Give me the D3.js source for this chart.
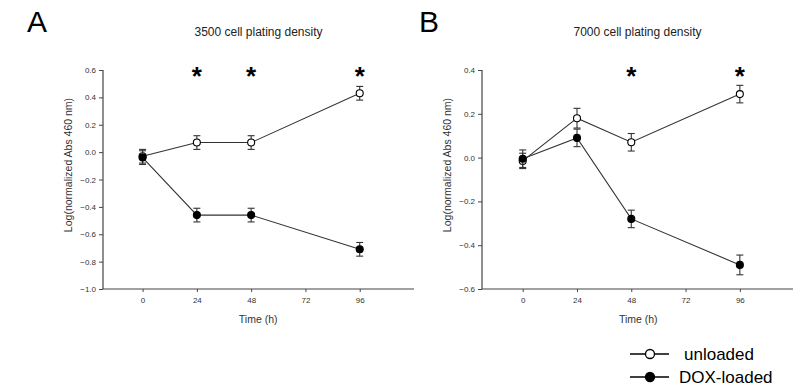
<!DOCTYPE html>
<html>
<head>
<meta charset="utf-8">
<script src="https://cdn.jsdelivr.net/npm/d3@7"></script>
<style>
  body { margin: 0; background: #fff; }
  svg { display: block; font-family: "Liberation Sans", Arial, sans-serif; }
</style>
</head>
<body>
<div class="chart"></div>
<script>
// data
const timePoints = [0, 24, 48, 96];
const xTicks = [0, 24, 48, 72, 96];

const aUnloaded = [-0.03, 0.07, 0.07, 0.43];
const aUnloadedErr = [0.05, 0.05, 0.05, 0.05];
const aDox = [-0.04, -0.46, -0.46, -0.71];
const aDoxErr = [0.05, 0.05, 0.05, 0.05];
const aStars = [24, 48, 96];
const aYTicks = [0.6, 0.4, 0.2, 0.0, -0.2, -0.4, -0.6, -0.8, -1.0];

const bUnloaded = [-0.015, 0.18, 0.07, 0.29];
const bUnloadedErr = [0.035, 0.045, 0.04, 0.04];
const bDox = [-0.005, 0.09, -0.28, -0.49];
const bDoxErr = [0.04, 0.04, 0.04, 0.045];
const bStars = [48, 96];
const bYTicks = [0.4, 0.2, 0.0, -0.2, -0.4, -0.6];

const legendLabels = ['unloaded', 'DOX-loaded'];

const lineColor = '#333';
const W = 801, H = 388;

const svg = d3.select('.chart').append('svg')
    .attr('width', W)
    .attr('height', H);

const panels = [
    {
        letter: 'A', title: '3500 cell plating density',
        left: 103, right: 414, xDomain: [-17.5, 120],
        yDomain: [-1.0, 0.6], yTicks: aYTicks,
        series: [
            { values: aUnloaded, err: aUnloadedErr, fill: '#fff' },
            { values: aDox, err: aDoxErr, fill: '#000' }
        ],
        stars: aStars, letterX: 27
    },
    {
        letter: 'B', title: '7000 cell plating density',
        left: 482, right: 793, xDomain: [-18, 119.5],
        yDomain: [-0.6, 0.4], yTicks: bYTicks,
        series: [
            { values: bUnloaded, err: bUnloadedErr, fill: '#fff' },
            { values: bDox, err: bDoxErr, fill: '#000' }
        ],
        stars: bStars, letterX: 419
    }
];

const plotTop = 70, plotBottom = 289;

panels.forEach(p => {
    const x = d3.scaleLinear().domain(p.xDomain).range([p.left, p.right]);
    const y = d3.scaleLinear().domain(p.yDomain).range([plotBottom, plotTop]);
    const g = svg.append('g');

    // panel letter + title
    g.append('text')
        .attr('x', p.letterX).attr('y', 32)
        .attr('font-size', 30).attr('fill', '#000')
        .text(p.letter);
    g.append('text')
        .attr('x', (p.left + p.right) / 2).attr('y', 36)
        .attr('text-anchor', 'middle')
        .attr('font-size', 12).attr('fill', '#222')
        .text(p.title);

    // axes
    const yAxis = d3.axisLeft(y).tickValues(p.yTicks)
        .tickFormat(d3.format('.1f')).tickSize(4).tickPadding(3);
    const xAxis = d3.axisBottom(x).tickValues(xTicks)
        .tickSize(3).tickPadding(5);

    const gy = g.append('g')
        .attr('transform', `translate(${p.left},0)`)
        .call(yAxis);
    const gx = g.append('g')
        .attr('transform', `translate(0,${plotBottom})`)
        .call(xAxis);

    [gx, gy].forEach(a => {
        a.select('.domain').attr('stroke', '#444').attr('stroke-width', 1.2);
        a.selectAll('.tick line').attr('stroke', '#444');
        a.selectAll('.tick text')
            .attr('fill', '#333')
            .attr('font-size', 8)
            .attr('font-family', '"Liberation Sans", Arial, sans-serif');
    });
    gy.select('.domain').attr('d', `M0,${plotBottom}V${plotTop}`);
    gx.select('.domain').attr('d', `M${p.left},0H${p.right}`);

    // axis labels
    g.append('text')
        .attr('transform', `translate(${p.left - 35},165) rotate(-90)`)
        .attr('text-anchor', 'middle')
        .attr('dy', '0.35em')
        .attr('font-size', 10.5).attr('fill', '#333')
        .text('Log(normalized Abs 460 nm)');
    g.append('text')
        .attr('x', x(48) + 7).attr('y', 323)
        .attr('text-anchor', 'middle')
        .attr('font-size', 10.5).attr('fill', '#333')
        .text('Time (h)');

    // significance stars
    g.selectAll('.star').data(p.stars).enter().append('text')
        .attr('class', 'star')
        .attr('x', d => x(d)).attr('y', 85)
        .attr('text-anchor', 'middle')
        .attr('font-size', 26).attr('font-weight', 'bold')
        .attr('fill', '#000')
        .text('*');

    // series: lines, error bars, markers
    const line = d3.line().x((d, i) => x(timePoints[i])).y(d => y(d));
    p.series.forEach(s => {
        g.append('path')
            .datum(s.values)
            .attr('d', line)
            .attr('fill', 'none')
            .attr('stroke', lineColor)
            .attr('stroke-width', 1.1);
    });
    p.series.forEach(s => {
        const pts = s.values.map((v, i) => ({ t: timePoints[i], v: v, e: s.err[i] }));
        const eb = g.append('g').attr('stroke', lineColor).attr('stroke-width', 1.1);
        pts.forEach(d => {
            eb.append('line')
                .attr('x1', x(d.t)).attr('x2', x(d.t))
                .attr('y1', y(d.v + d.e)).attr('y2', y(d.v - d.e));
            [d.v + d.e, d.v - d.e].forEach(c => {
                eb.append('line')
                    .attr('x1', x(d.t) - 3.5).attr('x2', x(d.t) + 3.5)
                    .attr('y1', y(c)).attr('y2', y(c));
            });
        });
        g.selectAll(null).data(pts).enter().append('circle')
            .attr('cx', d => x(d.t)).attr('cy', d => y(d.v))
            .attr('r', 3.5)
            .attr('fill', s.fill)
            .attr('stroke', '#000')
            .attr('stroke-width', 1.1);
    });
});

// legend
const legend = svg.append('g');
const legendFills = ['#fff', '#000'];
legendLabels.forEach((lab, i) => {
    const cy = 354 + i * 23;
    legend.append('line')
        .attr('x1', 630).attr('x2', 669)
        .attr('y1', cy).attr('y2', cy)
        .attr('stroke', '#000').attr('stroke-width', 1.3);
    legend.append('circle')
        .attr('cx', 650).attr('cy', cy).attr('r', 4.5)
        .attr('fill', legendFills[i])
        .attr('stroke', '#000').attr('stroke-width', 1.3);
    legend.append('text')
        .attr('x', i === 0 ? 684 : 679).attr('y', cy + 6)
        .attr('font-size', 17).attr('fill', '#000')
        .text(lab);
});
</script>
</body>
</html>
